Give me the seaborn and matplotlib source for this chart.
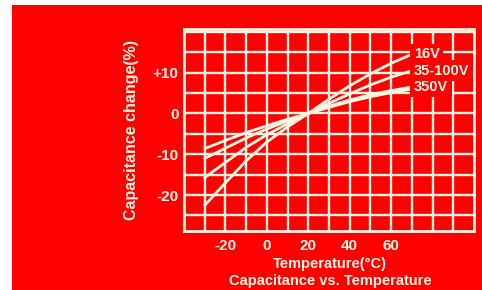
import pandas as pd
import seaborn as sns
import matplotlib.pyplot as plt
from matplotlib.patches import Rectangle

# === Data ===
temps = [-30, -20, -10, 0, 10, 20, 30, 40, 50, 60, 70]
cap_16v = [-22.5, -17.0, -11.6, -7.0, -3.3, 0.0, 3.5, 6.8, 9.7, 12.3, 14.5]
cap_35_100v = [-15.7, -12.0, -8.3, -5.2, -2.5, 0.0, 2.5, 4.8, 7.0, 8.9, 10.5]
cap_350v = [-11.0, -8.5, -6.0, -3.8, -1.8, 0.0, 1.8, 3.3, 4.6, 5.6, 6.5]
cap_extra = [-8.6, -6.6, -4.7, -3.0, -1.4, 0.0, 1.5, 2.9, 4.1, 5.1, 6.0]

series_labels = ["16V", "35-100V", "350V", ""]
x_tick_vals = list(range(-30, 100, 10))
x_tick_text = ["", "-20", "", "0", "", "20", "", "40", "", "60", "", "", ""]
y_tick_vals = list(range(-25, 25, 5))
y_tick_text = ["", "-20", "", "-10", "", "0", "", "+10", "", ""]

frames = []
for name, vals in zip(["16V", "35-100V", "350V", "extra"],
                      [cap_16v, cap_35_100v, cap_350v, cap_extra]):
    frames.append(pd.DataFrame({"temp": temps, "cap": vals, "series": name}))
df = pd.concat(frames, ignore_index=True)

# === Style ===
sns.set_theme(style="white")
plt.rcParams["font.family"] = ["Liberation Sans", "DejaVu Sans"]
plt.rcParams["font.weight"] = "bold"
red = "#FF0000"
cream = "#FFF6E4"

fig = plt.figure(figsize=(4.82, 2.90), dpi=100, facecolor="white")
fig.add_artist(Rectangle((12 / 482, 0), 1, 1 - 5 / 290, transform=fig.transFigure,
                         facecolor=red, edgecolor="none", zorder=-5))
ax = fig.add_axes([184 / 482, 59 / 290, 290 / 482, 202 / 290])
ax.set_zorder(2)
ax.set_facecolor(red)

sns.lineplot(data=df, x="temp", y="cap", units="series", estimator=None,
             color=cream, linewidth=2.0, ax=ax, zorder=3)

ax.set_xlim(-40, 100)
ax.set_ylim(-28.8, 20.7)
ax.set_xticks(x_tick_vals)
ax.set_xticklabels(x_tick_text)
ax.set_yticks(y_tick_vals)
ax.set_yticklabels(y_tick_text)
ax.grid(True, color=cream, linewidth=1.7)
ax.set_axisbelow(True)
ax.tick_params(length=0, colors=cream, labelsize=11)
ax.tick_params(axis="x", pad=6)
ax.tick_params(axis="y", pad=4)
for s in ax.spines.values():
    s.set_color(cream)
    s.set_linewidth(2)

ax.set_xlabel("")
ax.set_ylabel("Capacitance change(%)", color=cream, fontsize=11.5,
              fontweight="bold", labelpad=10)

# end labels
for lab, vals in zip(series_labels, [cap_16v, cap_35_100v, cap_350v]):
    ax.text(temps[-1] + 1, vals[-1], lab, color=cream, fontsize=10.5, va="center",
            ha="left", zorder=4,
            bbox=dict(facecolor=red, edgecolor="none", pad=2.5))

fig.text(330 / 482, 1 - 264 / 290, "Temperature(°C)", color=cream, fontsize=10.5,
         ha="center", va="center", zorder=3)
fig.text(330 / 482, 1 - 281 / 290, "Capacitance vs. Temperature", color=cream,
         fontsize=10.5, ha="center", va="center", zorder=3)

fig.savefig("out.png", dpi=100, facecolor=fig.get_facecolor())
